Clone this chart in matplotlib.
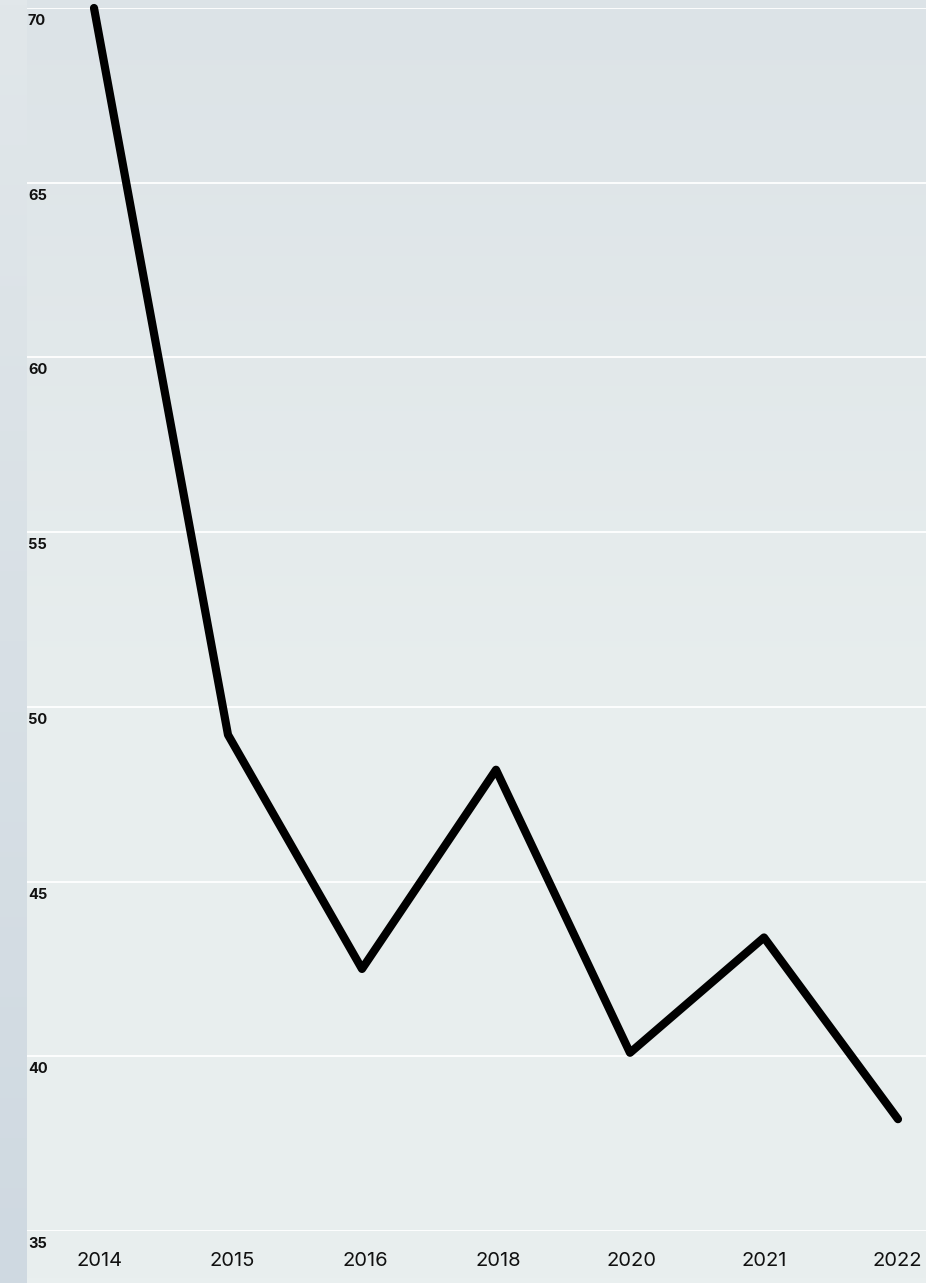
#!/usr/bin/env python3
# line chart: values per year on a soft gradient background
import numpy as np
import matplotlib
matplotlib.use('Agg')
import matplotlib.pyplot as plt
from matplotlib.colors import LinearSegmentedColormap
import matplotlib.transforms as mtransforms

# data
years = ["2014", "2015", "2016", "2018", "2020", "2021", "2022"]
values = [70.0, 49.2, 42.5, 48.2, 40.1, 43.4, 38.2]
y_ticks = [35, 40, 45, 50, 55, 60, 65, 70]

plt.rcParams['font.family'] = ['Inter', 'DejaVu Sans']

W, H = 926, 1283
fig = plt.figure(figsize=(W / 100, H / 100), dpi=100)
left = 27 / W

# background gradient for the plot area
bg_ax = fig.add_axes([left, 0, 1 - left, 1])
bg_ax.axis('off')
bg_cmap = LinearSegmentedColormap.from_list(
    "bg", [(0.0, "#dce3e7"), (0.55, "#e8eeee"), (1.0, "#e9efef")])
grad = np.linspace(0, 1, 256).reshape(-1, 1)
bg_ax.imshow(grad, aspect='auto', cmap=bg_cmap, extent=[0, 1, 1, 0])

# strip on the left
strip_ax = fig.add_axes([0, 0, left, 1])
strip_ax.axis('off')
strip_cmap = LinearSegmentedColormap.from_list("strip", ["#e1e7ea", "#cfd9e1"])
strip_ax.imshow(grad, aspect='auto', cmap=strip_cmap, extent=[0, 1, 1, 0])

# main axes
bottom = (H - 1231) / H
top = (H - 8) / H
ax = fig.add_axes([left, bottom, 1 - left, top - bottom])
ax.patch.set_alpha(0)

x = np.arange(len(years))
ax.plot(x, values, color='black', linewidth=5.9, solid_capstyle='round',
        solid_joinstyle='round', clip_on=False, zorder=3)

ax.set_ylim(35, 70)
ax.set_xlim(-0.5, len(years) - 1 + 28 / 134)
ax.set_yticks(y_ticks)
ax.yaxis.grid(True, color='white', linewidth=1.3)
ax.set_axisbelow(True)
ax.tick_params(axis='y', length=0, labelleft=False)

# year labels are spaced a little tighter than the points
ax.set_xticks(x * 0.992 + 0.04)
ax.set_xticklabels(years)
ax.tick_params(axis='x', length=0, pad=15, labelsize=14.5, labelcolor='#111111')

for s in ax.spines.values():
    s.set_visible(False)

# y labels sit just under their grid lines, inside the plot
trans = mtransforms.blended_transform_factory(ax.transAxes, ax.transData)
offset = mtransforms.ScaledTranslation(1 / 100, -6 / 100, fig.dpi_scale_trans)
for t in y_ticks:
    ax.text(0, t, str(t), transform=trans + offset, ha='left', va='top',
            fontsize=10.5, fontweight='bold', color='#111111')

plt.savefig('out.png', dpi=100)
